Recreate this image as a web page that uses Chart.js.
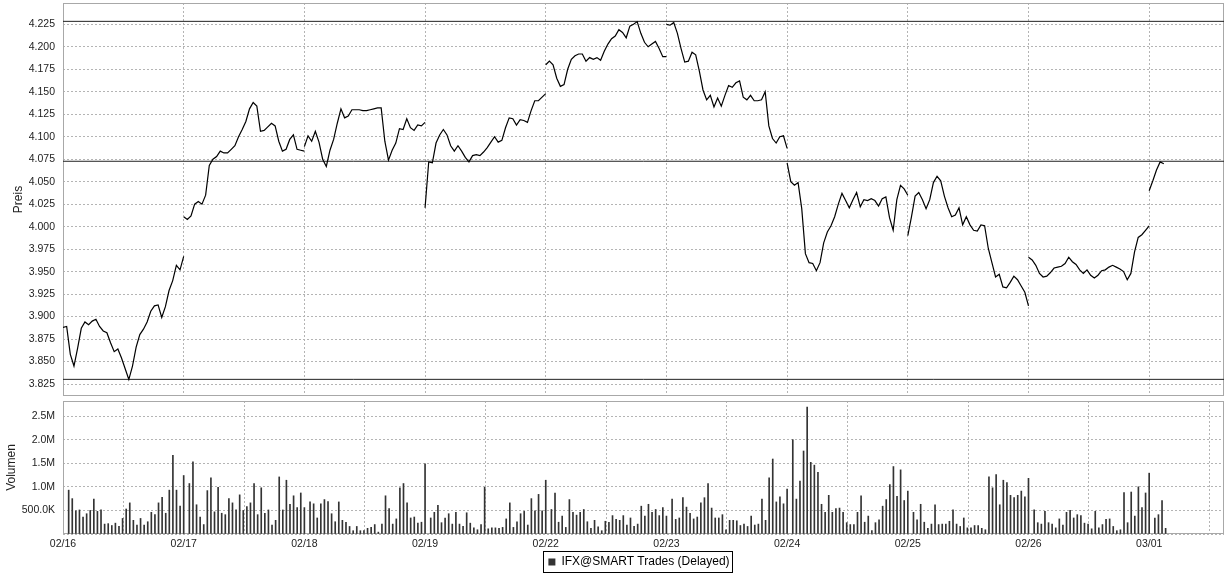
<!DOCTYPE html>
<html>
<head>
<meta charset="utf-8">
<script src="https://cdn.jsdelivr.net/npm/chart.js@4/dist/chart.umd.min.js"></script>
<style>
  html, body { margin: 0; padding: 0; background: #fff; }
  #wrap { position: relative; width: 1224px; height: 574px; overflow: hidden; }
  #priceBox { position: absolute; left: 0; top: 0; }
  #volBox { position: absolute; left: 0; top: 398px; }
</style>
</head>
<body>
<div id="wrap">
  <div id="priceBox"><canvas id="priceChart" width="1224" height="400"></canvas></div>
  <div id="volBox"><canvas id="volChart" width="1224" height="180"></canvas></div>
</div>
<script>
// trading days shown on the x axis
const dayLabels = ['02/16', '02/17', '02/18', '02/19', '02/22', '02/23', '02/24', '02/25', '02/26', '03/01'];

// 15-minute prices, one array per trading day
const p0216 = [3.888, 3.889, 3.858, 3.845, 3.865, 3.887, 3.894, 3.891, 3.895, 3.897, 3.889, 3.884, 3.882, 3.871, 3.861, 3.864, 3.854, 3.842, 3.830, 3.845, 3.866, 3.880, 3.886, 3.894, 3.906, 3.912, 3.913, 3.899, 3.911, 3.929, 3.940, 3.957, 3.952, 3.967];
const p0217 = [4.011, 4.008, 4.012, 4.025, 4.028, 4.025, 4.035, 4.068, 4.075, 4.078, 4.084, 4.082, 4.082, 4.086, 4.090, 4.100, 4.108, 4.117, 4.131, 4.138, 4.134, 4.106, 4.107, 4.111, 4.115, 4.112, 4.095, 4.084, 4.086, 4.097, 4.102, 4.086, 4.085, 4.084];
const p0218 = [4.089, 4.101, 4.095, 4.106, 4.094, 4.075, 4.067, 4.085, 4.097, 4.115, 4.131, 4.121, 4.123, 4.130, 4.130, 4.130, 4.129, 4.129, 4.130, 4.131, 4.132, 4.132, 4.095, 4.074, 4.085, 4.093, 4.109, 4.108, 4.120, 4.110, 4.107, 4.113, 4.112, 4.116];
const p0219 = [4.021, 4.072, 4.071, 4.093, 4.102, 4.108, 4.102, 4.090, 4.084, 4.090, 4.084, 4.077, 4.072, 4.079, 4.080, 4.079, 4.083, 4.088, 4.094, 4.100, 4.094, 4.096, 4.110, 4.121, 4.120, 4.113, 4.119, 4.118, 4.116, 4.129, 4.140, 4.140, 4.144, 4.148];
const p0222 = [4.180, 4.184, 4.180, 4.165, 4.156, 4.158, 4.175, 4.186, 4.190, 4.192, 4.192, 4.184, 4.188, 4.186, 4.188, 4.185, 4.195, 4.203, 4.209, 4.212, 4.219, 4.216, 4.210, 4.223, 4.225, 4.228, 4.215, 4.205, 4.200, 4.203, 4.206, 4.198, 4.189, 4.189];
const p0223 = [4.225, 4.224, 4.227, 4.215, 4.198, 4.183, 4.184, 4.194, 4.191, 4.173, 4.152, 4.141, 4.146, 4.133, 4.143, 4.134, 4.146, 4.157, 4.155, 4.160, 4.162, 4.144, 4.141, 4.146, 4.140, 4.140, 4.141, 4.150, 4.112, 4.098, 4.093, 4.100, 4.101, 4.087];
const p0224 = [4.071, 4.050, 4.046, 4.049, 4.020, 3.970, 3.960, 3.959, 3.951, 3.960, 3.982, 3.994, 4.001, 4.011, 4.025, 4.037, 4.029, 4.021, 4.030, 4.038, 4.022, 4.030, 4.029, 4.031, 4.029, 4.023, 4.031, 4.033, 4.010, 3.996, 4.030, 4.046, 4.042, 4.035];
const p0225 = [3.990, 4.011, 4.034, 4.038, 4.030, 4.020, 4.030, 4.049, 4.056, 4.051, 4.034, 4.021, 4.011, 4.013, 4.021, 4.002, 4.011, 4.002, 3.996, 3.995, 4.002, 4.001, 3.976, 3.960, 3.944, 3.947, 3.933, 3.932, 3.938, 3.945, 3.941, 3.934, 3.927, 3.912];
const p0226 = [3.966, 3.963, 3.957, 3.948, 3.944, 3.945, 3.949, 3.954, 3.955, 3.956, 3.959, 3.966, 3.961, 3.958, 3.952, 3.948, 3.952, 3.946, 3.943, 3.946, 3.951, 3.952, 3.955, 3.957, 3.955, 3.953, 3.950, 3.941, 3.948, 3.972, 3.988, 3.991, 3.996, 4.001];
const p0301 = [4.040, 4.051, 4.063, 4.072, 4.070];

// 15-minute volume in millions, one array per trading day
const v0216 = [0.93, 0.75, 0.49, 0.51, 0.36, 0.43, 0.50, 0.74, 0.48, 0.51, 0.21, 0.22, 0.18, 0.23, 0.16, 0.33, 0.53, 0.66, 0.29, 0.19, 0.33, 0.19, 0.26, 0.46, 0.41, 0.66, 0.78, 0.44, 0.93, 1.67, 0.93, 0.59, 1.24];
const v0217 = [1.07, 1.53, 0.62, 0.36, 0.20, 0.92, 1.19, 0.47, 0.99, 0.44, 0.41, 0.75, 0.66, 0.51, 0.83, 0.50, 0.58, 0.66, 1.07, 0.41, 0.98, 0.44, 0.51, 0.19, 0.29, 1.21, 0.51, 1.14, 0.63, 0.81, 0.56, 0.87, 0.56];
const v0218 = [0.68, 0.64, 0.34, 0.64, 0.73, 0.69, 0.43, 0.26, 0.68, 0.29, 0.25, 0.16, 0.07, 0.16, 0.07, 0.07, 0.12, 0.14, 0.20, 0.04, 0.21, 0.81, 0.54, 0.21, 0.32, 0.98, 1.07, 0.66, 0.34, 0.36, 0.23, 0.25, 1.49];
const v0219 = [0.34, 0.46, 0.61, 0.24, 0.34, 0.43, 0.21, 0.46, 0.21, 0.16, 0.45, 0.23, 0.13, 0.09, 0.20, 0.99, 0.11, 0.13, 0.13, 0.12, 0.14, 0.32, 0.66, 0.14, 0.26, 0.43, 0.48, 0.19, 0.75, 0.49, 0.84, 0.49, 1.14];
const v0222 = [0.52, 0.87, 0.25, 0.38, 0.14, 0.73, 0.46, 0.40, 0.46, 0.52, 0.26, 0.12, 0.29, 0.15, 0.07, 0.27, 0.25, 0.39, 0.31, 0.29, 0.39, 0.19, 0.34, 0.16, 0.21, 0.59, 0.38, 0.63, 0.46, 0.52, 0.39, 0.56, 0.38];
const v0223 = [0.74, 0.31, 0.34, 0.77, 0.57, 0.44, 0.32, 0.36, 0.66, 0.77, 1.07, 0.55, 0.34, 0.34, 0.41, 0.09, 0.29, 0.29, 0.28, 0.18, 0.21, 0.16, 0.38, 0.19, 0.21, 0.74, 0.29, 1.19, 1.59, 0.68, 0.79, 0.64, 0.95];
const v0224 = [2.00, 0.74, 1.12, 1.76, 2.69, 1.52, 1.46, 1.31, 0.63, 0.46, 0.82, 0.46, 0.54, 0.55, 0.46, 0.24, 0.20, 0.20, 0.46, 0.81, 0.25, 0.38, 0.07, 0.24, 0.30, 0.59, 0.73, 1.05, 1.43, 0.80, 1.36, 0.71, 0.91];
const v0225 = [0.46, 0.30, 0.63, 0.25, 0.12, 0.21, 0.62, 0.20, 0.21, 0.21, 0.27, 0.51, 0.21, 0.16, 0.34, 0.13, 0.13, 0.18, 0.18, 0.12, 0.09, 1.21, 0.98, 1.26, 0.62, 1.14, 1.09, 0.82, 0.77, 0.82, 0.91, 0.79, 1.18];
const v0226 = [0.51, 0.24, 0.21, 0.48, 0.24, 0.21, 0.13, 0.32, 0.19, 0.46, 0.50, 0.34, 0.41, 0.39, 0.23, 0.21, 0.11, 0.48, 0.13, 0.20, 0.31, 0.32, 0.16, 0.07, 0.09, 0.88, 0.24, 0.89, 0.38, 1.00, 0.56, 0.87, 1.29];
const v0301 = [0.34, 0.41, 0.71, 0.12];

// marker lines: high, last, low
const priceHigh = 4.2283;
const priceLast = 4.0727;
const priceLow = 3.8302;

const priceTicks = [3.825, 3.850, 3.875, 3.900, 3.925, 3.950, 3.975, 4.000, 4.025, 4.050, 4.075, 4.100, 4.125, 4.150, 4.175, 4.200, 4.225];
const volTicks = [0.5, 1.0, 1.5, 2.0, 2.5];
const volTickLabels = ['500.0K', '1.0M', '1.5M', '2.0M', '2.5M'];

const seriesName = 'IFX@SMART Trades (Delayed)';

const priceDays = [p0216, p0217, p0218, p0219, p0222, p0223, p0224, p0225, p0226, p0301];
const volDays = [v0216, v0217, v0218, v0219, v0222, v0223, v0224, v0225, v0226, v0301];

// x is measured in trading days; the last day is only partly shown
const xMax = 9.62;
const barsPerDay = 33;

const pricePoints = [];
priceDays.forEach((vals, d) => {
    vals.forEach((v, i) => pricePoints.push({ x: d + i / 33, y: v }));
    pricePoints.push({ x: d + 1, y: null });
});

const volPoints = [];
volDays.forEach((vals, d) => {
    vals.forEach((v, j) => volPoints.push({ x: d + 0.047 + j * 0.953 / (barsPerDay - 1), y: v }));
});

Chart.defaults.font.family = "'Liberation Sans', Arial, sans-serif";
Chart.defaults.color = '#222';

// frame around the plot area, the way the old java chart had it
const frame = {
    id: 'frame',
    beforeDatasetsDraw(chart) {
        const a = chart.chartArea;
        const ctx = chart.ctx;
        ctx.save();
        ctx.strokeStyle = '#a8a8a8';
        ctx.lineWidth = 1;
        ctx.strokeRect(Math.round(a.left) + 0.5, Math.round(a.top) + 0.5, Math.round(a.right - a.left) - 1, Math.round(a.bottom - a.top) - 1);
        ctx.restore();
    }
};

// the legend sits centred under the plot area, not the canvas, and has a box round it
const legendShift = 27;
const legendFrame = {
    id: 'legendFrame',
    afterLayout(chart) {
        const lg = chart.legend;
        if (!lg) return;
        lg.left += legendShift;
        lg.right += legendShift;
        (lg.legendHitBoxes || []).forEach(b => { b.left += legendShift; });
    },
    afterDraw(chart) {
        const box = chart.legend && chart.legend.legendHitBoxes && chart.legend.legendHitBoxes[0];
        if (!box) return;
        const ctx = chart.ctx;
        const cy = Math.round(box.top + box.height / 2);
        ctx.save();
        ctx.strokeStyle = '#000';
        ctx.lineWidth = 1;
        ctx.strokeRect(Math.round(box.left) - 4.5, cy - 10.5, Math.round(box.width) + 8, 21);
        ctx.restore();
    }
};

function dashedGrid() {
    return {
        color: '#b4b4b4',
        lineWidth: 1,
        drawTicks: false
    };
}

// no extra room for half tick labels at the ends
function noPad(scale) {
    scale.paddingTop = 0;
    scale.paddingBottom = 0;
}

const xScaleBase = {
    type: 'linear',
    min: 0,
    max: xMax,
    afterBuildTicks: (scale) => { scale.ticks = dayLabels.map((l, i) => ({ value: i })); },
    grid: dashedGrid(),
    border: { display: false, dash: [2, 2] }
};

new Chart(document.getElementById('priceChart'), {
    type: 'line',
    data: {
        datasets: [
            {
                label: seriesName,
                data: pricePoints,
                borderColor: '#000',
                borderWidth: 1.2,
                pointRadius: 0,
                tension: 0,
                spanGaps: false
            },
            {
                label: 'high',
                data: [{ x: 0, y: priceHigh }, { x: xMax, y: priceHigh }],
                borderColor: '#222',
                borderWidth: 1,
                pointRadius: 0
            },
            {
                label: 'last',
                data: [{ x: 0, y: priceLast }, { x: xMax, y: priceLast }],
                borderColor: '#222',
                borderWidth: 1,
                pointRadius: 0
            },
            {
                label: 'low',
                data: [{ x: 0, y: priceLow }, { x: xMax, y: priceLow }],
                borderColor: '#222',
                borderWidth: 1,
                pointRadius: 0
            }
        ]
    },
    options: {
        responsive: false,
        animation: false,
        layout: { padding: { top: 3, right: 0, bottom: 0, left: 0 } },
        plugins: { legend: { display: false }, tooltip: { enabled: false } },
        scales: {
            x: Object.assign({}, xScaleBase, {
                ticks: { display: false },
                afterFit: (scale) => { scale.height = 4; }
            }),
            y: {
                min: 3.8117,
                max: 4.2487,
                afterBuildTicks: (scale) => { scale.ticks = priceTicks.map(v => ({ value: v })); },
                afterFit: (scale) => { scale.width = 63; noPad(scale); },
                ticks: {
                    padding: 8,
                    font: { size: 10.5 },
                    callback: (v) => v.toFixed(3)
                },
                grid: dashedGrid(),
                border: { display: false, dash: [2, 2] },
                title: {
                    display: true,
                    text: 'Preis',
                    font: { size: 12 },
                    color: '#222',
                    padding: { top: 11, bottom: 0 }
                }
            }
        }
    },
    plugins: [frame]
});

new Chart(document.getElementById('volChart'), {
    type: 'bar',
    data: {
        datasets: [
            {
                label: seriesName,
                data: volPoints,
                backgroundColor: '#333',
                borderWidth: 0,
                barThickness: 1
            }
        ]
    },
    options: {
        responsive: false,
        animation: false,
        layout: { padding: { top: 3, right: 0, bottom: 0, left: 0 } },
        plugins: {
            tooltip: { enabled: false },
            legend: {
                display: true,
                position: 'bottom',
                labels: {
                    boxWidth: 7,
                    boxHeight: 7,
                    padding: 5,
                    color: '#000',
                    font: { size: 12 }
                }
            }
        },
        scales: {
            x: Object.assign({}, xScaleBase, {
                offset: false,
                ticks: {
                    padding: 4,
                    maxRotation: 0,
                    autoSkip: false,
                    font: { size: 10.5 },
                    callback: (v) => dayLabels[v]
                },
                afterFit: (scale) => { scale.height = 17; }
            }),
            y: {
                min: 0,
                max: 2.82,
                afterBuildTicks: (scale) => { scale.ticks = [{ value: 0 }].concat(volTicks.map(v => ({ value: v }))); },
                afterFit: (scale) => { scale.width = 63; noPad(scale); },
                ticks: {
                    padding: 8,
                    font: { size: 10.5 },
                    callback: (v) => {
                        const k = volTicks.indexOf(v);
                        return k >= 0 ? volTickLabels[k] : '';
                    }
                },
                grid: dashedGrid(),
                border: { display: false, dash: [2, 2] },
                title: {
                    display: true,
                    text: 'Volumen',
                    font: { size: 12 },
                    color: '#222',
                    padding: { top: 4, bottom: 0 }
                }
            }
        }
    },
    plugins: [frame, legendFrame]
});
</script>
</body>
</html>
